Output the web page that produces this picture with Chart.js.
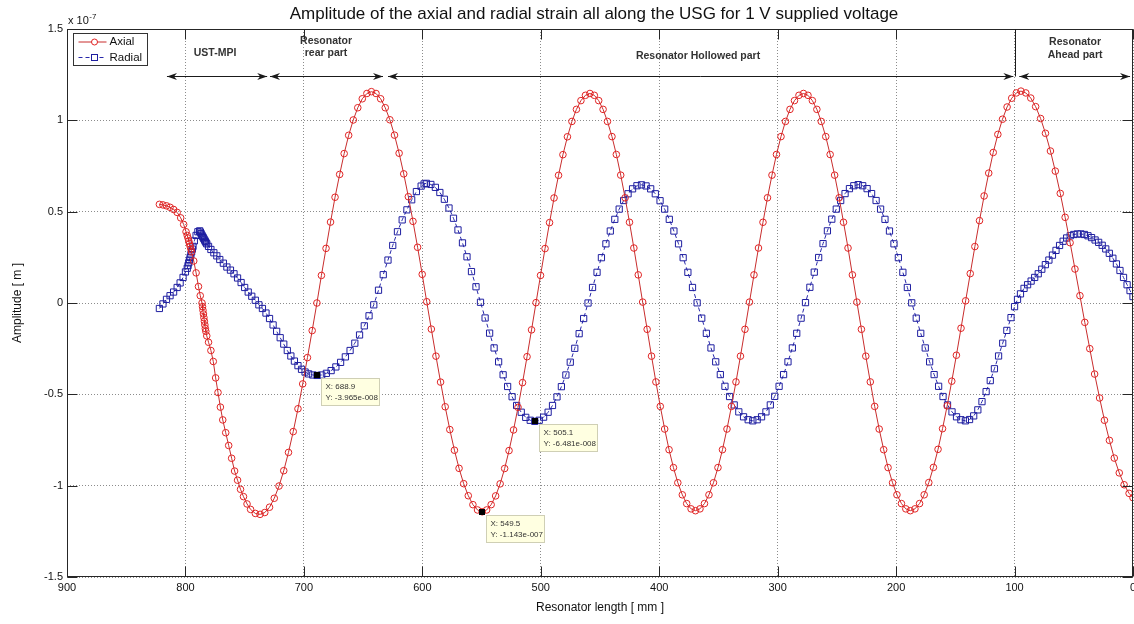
<!DOCTYPE html>
<html>
<head>
<meta charset="utf-8">
<script src="https://cdn.jsdelivr.net/npm/chart.js@4.4.1/dist/chart.umd.min.js"></script>
<style>
html,body{margin:0;padding:0;background:#fff;}
#wrap{width:1134px;height:624px;position:relative;}
</style>
</head>
<body>
<div id="wrap"><canvas id="c" width="1134" height="624"></canvas></div>
<script>
// ---------------- data (amplitude in units of 1e-7 m, position in mm) ----------------
const chartTitle = 'Amplitude of the axial and radial strain all along the USG for 1 V supplied voltage';
const xAxisTitle = 'Resonator length [ mm ]';
const yAxisTitle = 'Amplitude [ m ]';
const seriesNames = ['Axial', 'Radial'];
const xTickValues = [900, 800, 700, 600, 500, 400, 300, 200, 100, 0];
const yTickValues = [1.5, 1, 0.5, 0, -0.5, -1, -1.5];

const axialX = [
  822, 819, 816, 813, 810, 807, 804, 801.5, 799.5, 798.5, 797.8, 797.2, 796.6, 796, 795.4, 794.8, 793, 791, 789, 787.5, 786, 785.6, 785.2, 784.8, 784.4, 784, 783.6, 783.2, 782.8, 782, 780.5, 778.5, 776.5, 774.5, 772.5, 770.5, 768.5, 766, 763.5, 761, 758.5, 756, 753.5, 751, 748, 745, 741,
  737, 733, 729, 725, 721, 717, 713, 709, 705, 701, 697, 693, 689, 685.2, 681.3, 677.5, 673.7, 669.8, 666, 662.2, 658.3, 654.5, 650.7, 646.8, 643,
  639.1, 635.2, 631.3, 627.4, 623.5, 619.6, 615.7, 611.8, 607.9, 604.0, 600.1, 596.3, 592.4, 588.5, 584.6, 580.7, 576.8, 572.9, 569.0, 565.1, 561.2, 557.3, 553.4, 549.5,
  545.7, 541.9, 538.1, 534.3, 530.5, 526.8, 523.0, 519.2, 515.4, 511.6, 507.8, 504.0, 500.2, 496.4, 492.6, 488.8, 485.0, 481.3, 477.5, 473.7, 469.9, 466.1, 462.3, 458.5,
  454.8, 451.1, 447.4, 443.7, 439.9, 436.2, 432.5, 428.8, 425.1, 421.4, 417.7, 414.0, 410.2, 406.5, 402.8, 399.1, 395.4, 391.7, 388.0, 384.3, 380.5, 376.8, 373.1, 369.4,
  365.6, 361.8, 358.0, 354.2, 350.4, 346.6, 342.8, 339.0, 335.2, 331.4, 327.6, 323.8, 320.0, 316.2, 312.4, 308.6, 304.8, 301.0, 297.2, 293.4, 289.6, 285.8, 282.0, 278.2,
  274.4, 270.7, 266.9, 263.2, 259.4, 255.7, 251.9, 248.1, 244.4, 240.6, 236.9, 233.1, 229.3, 225.6, 221.8, 218.1, 214.3, 210.5, 206.8, 203.0, 199.3, 195.5, 191.8, 188.0,
  184.1, 180.2, 176.3, 172.4, 168.5, 164.6, 160.8, 156.9, 153.0, 149.1, 145.2, 141.3, 137.4, 133.5, 129.6, 125.7, 121.8, 118.0, 114.1, 110.2, 106.3, 102.4, 98.5, 94.6,
  90.5, 86.3, 82.2, 78.0, 73.9, 69.7, 65.6, 61.4, 57.3, 53.1, 49.0, 44.8, 40.7, 36.5, 32.4, 28.2, 24.1, 19.9, 15.8, 11.6, 7.5, 3.3, 0
];
const axialY = [
  0.54, 0.537, 0.532, 0.524, 0.512, 0.496, 0.466, 0.43, 0.39, 0.37, 0.355, 0.34, 0.325, 0.31, 0.295, 0.28, 0.23, 0.165, 0.09, 0.04, 0.0, -0.02, -0.04, -0.06, -0.08, -0.10, -0.12, -0.14, -0.155, -0.18, -0.215, -0.26, -0.32, -0.41, -0.49, -0.57, -0.64, -0.71, -0.78, -0.85, -0.92, -0.97, -1.02, -1.06, -1.10, -1.13, -1.152,
  -1.157, -1.147, -1.118, -1.069, -1.002, -0.918, -0.818, -0.704, -0.579, -0.443, -0.299, -0.151, 0.000, 0.151, 0.299, 0.443, 0.579, 0.704, 0.818, 0.918, 1.002, 1.069, 1.118, 1.147, 1.157,
  1.147, 1.118, 1.069, 1.003, 0.919, 0.820, 0.707, 0.582, 0.447, 0.305, 0.157, 0.007, -0.143, -0.291, -0.433, -0.568, -0.693, -0.806, -0.905, -0.989, -1.055, -1.104, -1.133, -1.143,
  -1.133, -1.104, -1.056, -0.990, -0.906, -0.808, -0.695, -0.571, -0.436, -0.294, -0.147, 0.002, 0.151, 0.298, 0.440, 0.575, 0.699, 0.812, 0.910, 0.994, 1.060, 1.108, 1.137, 1.147,
  1.137, 1.108, 1.060, 0.994, 0.911, 0.813, 0.700, 0.576, 0.442, 0.301, 0.154, 0.005, -0.144, -0.291, -0.432, -0.566, -0.690, -0.803, -0.901, -0.984, -1.050, -1.098, -1.127, -1.137,
  -1.127, -1.098, -1.050, -0.984, -0.901, -0.803, -0.690, -0.566, -0.432, -0.291, -0.144, 0.005, 0.154, 0.301, 0.442, 0.576, 0.700, 0.813, 0.911, 0.994, 1.060, 1.108, 1.137, 1.147,
  1.137, 1.108, 1.060, 0.994, 0.911, 0.813, 0.700, 0.576, 0.442, 0.301, 0.154, 0.005, -0.144, -0.291, -0.432, -0.566, -0.690, -0.803, -0.901, -0.984, -1.050, -1.098, -1.127, -1.137,
  -1.127, -1.098, -1.050, -0.983, -0.900, -0.801, -0.688, -0.563, -0.428, -0.286, -0.138, 0.012, 0.161, 0.309, 0.451, 0.586, 0.711, 0.824, 0.923, 1.006, 1.073, 1.121, 1.150, 1.160,
  1.150, 1.122, 1.075, 1.010, 0.929, 0.832, 0.722, 0.600, 0.469, 0.330, 0.186, 0.040, -0.106, -0.250, -0.389, -0.520, -0.642, -0.752, -0.849, -0.930, -0.995, -1.042, -1.066
];

const radialX = [
  822, 819, 816, 813, 810, 807, 804.5, 802, 800, 798.5, 797.8, 797.2, 796.6, 796, 795.4, 794.8, 794.2, 793.6, 792.5, 791, 789.5, 788, 787.4, 786.8, 786.2, 785.6, 785, 784.4, 783.8, 783.2, 782.6, 782, 780.5, 778.5, 776, 773.5, 771, 768, 765, 762, 759, 756, 753, 750, 747, 744, 741, 738, 735, 732, 729, 726, 723, 720, 717, 714, 711, 708, 705, 702, 699, 696, 692.5, 688.9,
  685, 681, 677, 673, 669, 665, 661, 657, 653, 649, 645, 641, 637, 633, 629, 625, 621, 617, 613, 609, 605, 601, 598.5, 596.6,
  592.8, 589.0, 585.2, 581.4, 577.5, 573.7, 569.9, 566.1, 562.3, 558.5, 554.7, 550.9, 547.0, 543.2, 539.4, 535.6, 531.8, 528.0, 524.2, 520.4, 516.5, 512.7, 508.9, 505.1,
  501.3, 497.6, 493.8, 490.1, 486.3, 482.6, 478.8, 475.1, 471.3, 467.6, 463.8, 460.1, 456.3, 452.5, 448.8, 445.0, 441.3, 437.5, 433.8, 430.0, 426.3, 422.5, 418.8, 415.0,
  411.1, 407.2, 403.3, 399.3, 395.4, 391.5, 387.6, 383.7, 379.8, 375.8, 371.9, 368.0, 364.1, 360.2, 356.3, 352.3, 348.4, 344.5, 340.6, 336.7, 332.8, 328.8, 324.9, 321.0,
  317.3, 313.6, 309.9, 306.2, 302.5, 298.8, 295.0, 291.3, 287.6, 283.9, 280.2, 276.5, 272.8, 269.1, 265.4, 261.7, 258.0, 254.3, 250.5, 246.8, 243.1, 239.4, 235.7, 232.0,
  228.2, 224.5, 220.7, 216.9, 213.1, 209.4, 205.6, 201.8, 198.1, 194.3, 190.5, 186.8, 183.0, 179.2, 175.4, 171.7, 167.9, 164.1, 160.4, 156.6, 152.8, 149.0, 145.3, 141.5,
  138, 134.5, 131, 127.5, 124, 120.5, 117, 113.5, 110, 106.5, 103, 100, 97.5, 95, 92, 89, 86, 83, 80, 77, 74, 71, 68, 65, 62, 59, 56, 53, 50, 47, 44, 41, 38, 35, 32, 29, 26, 23, 20, 17, 14, 11, 8, 5, 2.5, 0
];
const radialY = [
  -0.03, -0.005, 0.02, 0.04, 0.06, 0.085, 0.11, 0.14, 0.17, 0.19, 0.205, 0.22, 0.235, 0.25, 0.265, 0.28, 0.295, 0.31, 0.34, 0.37, 0.39, 0.395, 0.388, 0.38, 0.372, 0.365, 0.358, 0.351, 0.344, 0.337, 0.33, 0.324, 0.31, 0.293, 0.275, 0.258, 0.238, 0.218, 0.197, 0.18, 0.16, 0.137, 0.112, 0.085, 0.06, 0.037, 0.015, -0.01, -0.03, -0.055, -0.085, -0.12, -0.155, -0.19, -0.225, -0.26, -0.29, -0.318, -0.343, -0.363, -0.378, -0.388, -0.394, -0.3965,
  -0.394, -0.385, -0.37, -0.35, -0.325, -0.295, -0.26, -0.22, -0.175, -0.125, -0.07, -0.01, 0.07, 0.155, 0.235, 0.315, 0.39, 0.455, 0.51, 0.565, 0.61, 0.64, 0.652, 0.655,
  0.649, 0.633, 0.605, 0.568, 0.520, 0.464, 0.400, 0.329, 0.253, 0.172, 0.089, 0.004, -0.082, -0.165, -0.246, -0.322, -0.393, -0.457, -0.513, -0.561, -0.598, -0.626, -0.642, -0.648,
  -0.642, -0.625, -0.598, -0.561, -0.514, -0.458, -0.394, -0.324, -0.248, -0.168, -0.085, 0.000, 0.085, 0.168, 0.248, 0.324, 0.394, 0.458, 0.514, 0.561, 0.598, 0.625, 0.642, 0.647,
  0.641, 0.625, 0.598, 0.560, 0.514, 0.458, 0.394, 0.324, 0.248, 0.168, 0.085, 0.001, -0.083, -0.166, -0.246, -0.322, -0.392, -0.456, -0.512, -0.558, -0.596, -0.623, -0.639, -0.645,
  -0.639, -0.623, -0.596, -0.558, -0.511, -0.456, -0.392, -0.322, -0.246, -0.166, -0.083, 0.002, 0.086, 0.169, 0.249, 0.325, 0.395, 0.459, 0.514, 0.561, 0.599, 0.626, 0.642, 0.648,
  0.642, 0.626, 0.599, 0.561, 0.514, 0.458, 0.394, 0.324, 0.248, 0.168, 0.085, 0.001, -0.083, -0.166, -0.246, -0.322, -0.392, -0.456, -0.512, -0.558, -0.596, -0.623, -0.639, -0.645,
  -0.638, -0.618, -0.585, -0.54, -0.485, -0.425, -0.36, -0.29, -0.22, -0.15, -0.08, -0.02, 0.02, 0.05, 0.08, 0.1, 0.12, 0.14, 0.16, 0.185, 0.21, 0.235, 0.262, 0.288, 0.315, 0.338, 0.356, 0.368, 0.375, 0.378, 0.378, 0.375, 0.368, 0.358, 0.345, 0.332, 0.316, 0.296, 0.272, 0.245, 0.214, 0.178, 0.14, 0.1, 0.068, 0.035
];

// section annotations (mm)
const sectionNames = [['UST-MPI'], ['Resonator', 'rear part'], ['Resonator Hollowed part'], ['Resonator', 'Ahead part']];
const sectionFrom = [815.6, 728.6, 629, 96];
const sectionTo = [731, 633.2, 101, 2.5];

// data tips
const tipX = [688.9, 549.5, 505.1];
const tipY = [-0.3965, -1.143, -0.6481];
const tipText = [['X: 688.9', 'Y: -3.965e-008'], ['X: 549.5', 'Y: -1.143e-007'], ['X: 505.1', 'Y: -6.481e-008']];

// ---------------- chart ----------------
const F = '"Liberation Sans", Arial, Helvetica, sans-serif';
const RED_LINE = 'rgb(200,45,45)', RED_MK = 'rgb(225,35,35)';
const BLUE_LINE = 'rgb(40,40,170)', BLUE_MK = 'rgb(30,30,160)';

function zip(xs, ys) {
  const n = Math.min(xs.length, ys.length);
  const out = [];
  for (let i = 0; i < n; i++) out.push({x: xs[i], y: ys[i]});
  return out;
}

// keep the plot box flush with the right edge like the original figure
const fixArea = {
  id: 'fixArea',
  afterLayout(chart) {
    const ca = chart.chartArea, xs = chart.scales.x;
    const target = chart.width - 1;
    if (Math.abs(ca.right - target) > 0.5) {
      ca.right = target;
      ca.width = ca.right - ca.left;
      xs.right = target;
      xs.width = target - xs.left;
      xs.configure();
    }
  }
};

const overlay = {
  id: 'overlay',
  afterDatasetsDraw(chart) {
    const {ctx, chartArea: ca, scales: {x, y}} = chart;
    ctx.save();
    const L = Math.round(ca.left) + 0.5, R = Math.round(ca.right) - 0.5;
    const T = Math.round(ca.top) + 0.5, B = Math.round(ca.bottom) - 0.5;

    // box + inner ticks
    ctx.setLineDash([]);
    ctx.strokeStyle = '#262626';
    ctx.lineWidth = 1;
    ctx.strokeRect(L, T, R - L, B - T);
    ctx.beginPath();
    x.ticks.forEach(t => {
      const X = Math.round(x.getPixelForValue(t.value)) + 0.5;
      ctx.moveTo(X, B); ctx.lineTo(X, B - 10);
      ctx.moveTo(X, T); ctx.lineTo(X, T + 10);
    });
    y.ticks.forEach(t => {
      const Y = Math.round(y.getPixelForValue(t.value)) + 0.5;
      ctx.moveTo(L, Y); ctx.lineTo(L + 10, Y);
      ctx.moveTo(R, Y); ctx.lineTo(R - 10, Y);
    });
    ctx.stroke();

    // section arrows
    const ay = Math.round(y.getPixelForValue(1.24)) + 0.5;
    ctx.strokeStyle = '#1a1a1a';
    ctx.fillStyle = '#1a1a1a';
    const head = (xt, dir) => {
      ctx.beginPath();
      ctx.moveTo(xt, ay);
      ctx.lineTo(xt - dir * 10, ay - 3.5);
      ctx.lineTo(xt - dir * 7, ay);
      ctx.lineTo(xt - dir * 10, ay + 3.5);
      ctx.closePath();
      ctx.fill();
    };
    for (let i = 0; i < sectionFrom.length; i++) {
      const xa = x.getPixelForValue(sectionFrom[i]);
      const xb = x.getPixelForValue(sectionTo[i]);
      ctx.beginPath(); ctx.moveTo(xa, ay); ctx.lineTo(xb, ay); ctx.stroke();
      head(xa, -1); head(xb, 1);
    }
    // solid boundary line at 100 mm
    const xb100 = Math.round(x.getPixelForValue(100)) + 0.5;
    ctx.beginPath(); ctx.moveTo(xb100, T); ctx.lineTo(xb100, ay); ctx.stroke();

    // section labels
    ctx.fillStyle = '#333';
    ctx.font = 'bold 10.5px ' + F;
    ctx.textAlign = 'center';
    ctx.textBaseline = 'middle';
    const labelPos = [[775, [53]], [681.3, [41, 53.5]], [367.2, [56]], [48.9, [42.5, 55]]];
    sectionNames.forEach((lines, i) => {
      const cx = x.getPixelForValue(labelPos[i][0]);
      lines.forEach((s, j) => ctx.fillText(s, cx, labelPos[i][1][j]));
    });

    // data tips
    for (let i = 0; i < tipX.length; i++) {
      const X = x.getPixelForValue(tipX[i]);
      const Y = y.getPixelForValue(tipY[i]);
      const bx = Math.round(X + 4) + 0.5, by = Math.round(Y + 3) + 0.5;
      ctx.fillStyle = '#ffffe1';
      ctx.strokeStyle = '#cfcfb5';
      ctx.fillRect(bx, by, 58, 27);
      ctx.strokeRect(bx, by, 58, 27);
      ctx.fillStyle = '#000';
      ctx.fillRect(Math.round(X) - 3, Math.round(Y) - 3, 6, 6);
      ctx.fillStyle = '#333';
      ctx.font = '8px ' + F;
      ctx.textAlign = 'left';
      ctx.textBaseline = 'middle';
      ctx.fillText(tipText[i][0], bx + 4, by + 8);
      ctx.fillText(tipText[i][1], bx + 4, by + 19.5);
    }

    // legend
    const lx = Math.round(ca.left) + 6.5, ly = Math.round(ca.top) + 4.5;
    ctx.fillStyle = '#fff';
    ctx.fillRect(lx, ly, 74, 32);
    ctx.strokeStyle = '#333';
    ctx.setLineDash([]);
    ctx.strokeRect(lx, ly, 74, 32);
    const ds = chart.data.datasets;
    const rows = [ly + 8.5, ly + 24];
    ds.forEach((d, i) => {
      const ry = rows[i];
      ctx.strokeStyle = d.borderColor;
      ctx.lineWidth = 1;
      ctx.setLineDash(d.borderDash || []);
      ctx.beginPath(); ctx.moveTo(lx + 5, ry); ctx.lineTo(lx + 33, ry); ctx.stroke();
      ctx.setLineDash([]);
      ctx.strokeStyle = d.pointBorderColor;
      ctx.fillStyle = '#fff';
      if (d.pointStyle === 'rect') {
        ctx.fillRect(lx + 18, ry - 3, 6, 6);
        ctx.strokeRect(lx + 18, ry - 3, 6, 6);
      } else {
        ctx.beginPath(); ctx.arc(lx + 21, ry, 3, 0, Math.PI * 2); ctx.fill(); ctx.stroke();
      }
      ctx.fillStyle = '#111';
      ctx.font = '11.5px ' + F;
      ctx.textAlign = 'left';
      ctx.textBaseline = 'middle';
      ctx.fillText(d.label, lx + 36, ry);
    });

    // title and exponent
    ctx.fillStyle = '#111';
    ctx.font = '17px ' + F;
    ctx.textAlign = 'center';
    ctx.textBaseline = 'middle';
    ctx.fillText(chartTitle, (ca.left + ca.right) / 2 - 6, 14);
    ctx.textAlign = 'left';
    ctx.font = '11px ' + F;
    ctx.fillText('x 10', Math.round(ca.left) + 1, 21);
    const w = ctx.measureText('x 10').width;
    ctx.font = '8px ' + F;
    ctx.fillText('-7', Math.round(ca.left) + 1 + w + 0.5, 17);
    ctx.restore();
  }
};

new Chart(document.getElementById('c'), {
  type: 'scatter',
  data: {
    datasets: [
      {
        label: seriesNames[0],
        data: zip(axialX, axialY),
        showLine: true,
        borderColor: RED_LINE,
        borderWidth: 1,
        pointStyle: 'circle',
        pointRadius: 3.3,
        pointBorderWidth: 1,
        pointBorderColor: RED_MK,
        pointBackgroundColor: 'rgba(255,255,255,0)',
        tension: 0
      },
      {
        label: seriesNames[1],
        data: zip(radialX, radialY),
        showLine: true,
        borderColor: BLUE_LINE,
        borderWidth: 1,
        borderDash: [4, 3],
        pointStyle: 'rect',
        pointRadius: 4.4,
        pointBorderWidth: 1,
        pointBorderColor: BLUE_MK,
        pointBackgroundColor: 'rgba(255,255,255,0)',
        tension: 0
      }
    ]
  },
  options: {
    responsive: false,
    animation: false,
    devicePixelRatio: 1,
    events: [],
    layout: {padding: {left: 0, right: 1, top: 29, bottom: 0}},
    plugins: {legend: {display: false}, tooltip: {enabled: false}, title: {display: false}},
    scales: {
      x: {
        type: 'linear', reverse: true, min: 0, max: 900,
        afterBuildTicks: s => { s.ticks = xTickValues.map(v => ({value: v})); },
        ticks: {font: {family: F, size: 11}, color: '#111', padding: 4, maxRotation: 0, autoSkip: false,
                callback: v => String(v)},
        grid: {color: 'rgba(0,0,0,0.45)', drawTicks: false, lineWidth: 1},
        border: {display: false, dash: [1, 2]},
        title: {display: true, text: xAxisTitle, font: {family: F, size: 12}, color: '#111', padding: {top: 4, bottom: 9}},
        afterFit: s => { s.height = 47; s.paddingLeft = 0; s.paddingRight = 0; if (s._margins) { s._margins.left = 0; s._margins.right = 0; } }
      },
      y: {
        min: -1.5, max: 1.5,
        afterBuildTicks: s => { s.ticks = yTickValues.slice().reverse().map(v => ({value: v})); },
        ticks: {font: {family: F, size: 11}, color: '#111', padding: 4,
                callback: v => String(Math.round(v * 10) / 10)},
        grid: {color: 'rgba(0,0,0,0.45)', drawTicks: false, lineWidth: 1},
        border: {display: false, dash: [1, 2]},
        title: {display: true, text: yAxisTitle, font: {family: F, size: 12}, color: '#111', padding: {top: 10, bottom: 0}},
        afterFit: s => { s.width = 67; s.paddingTop = 0; s.paddingBottom = 0; }
      }
    }
  },
  plugins: [fixArea, overlay]
});
</script>
</body>
</html>
